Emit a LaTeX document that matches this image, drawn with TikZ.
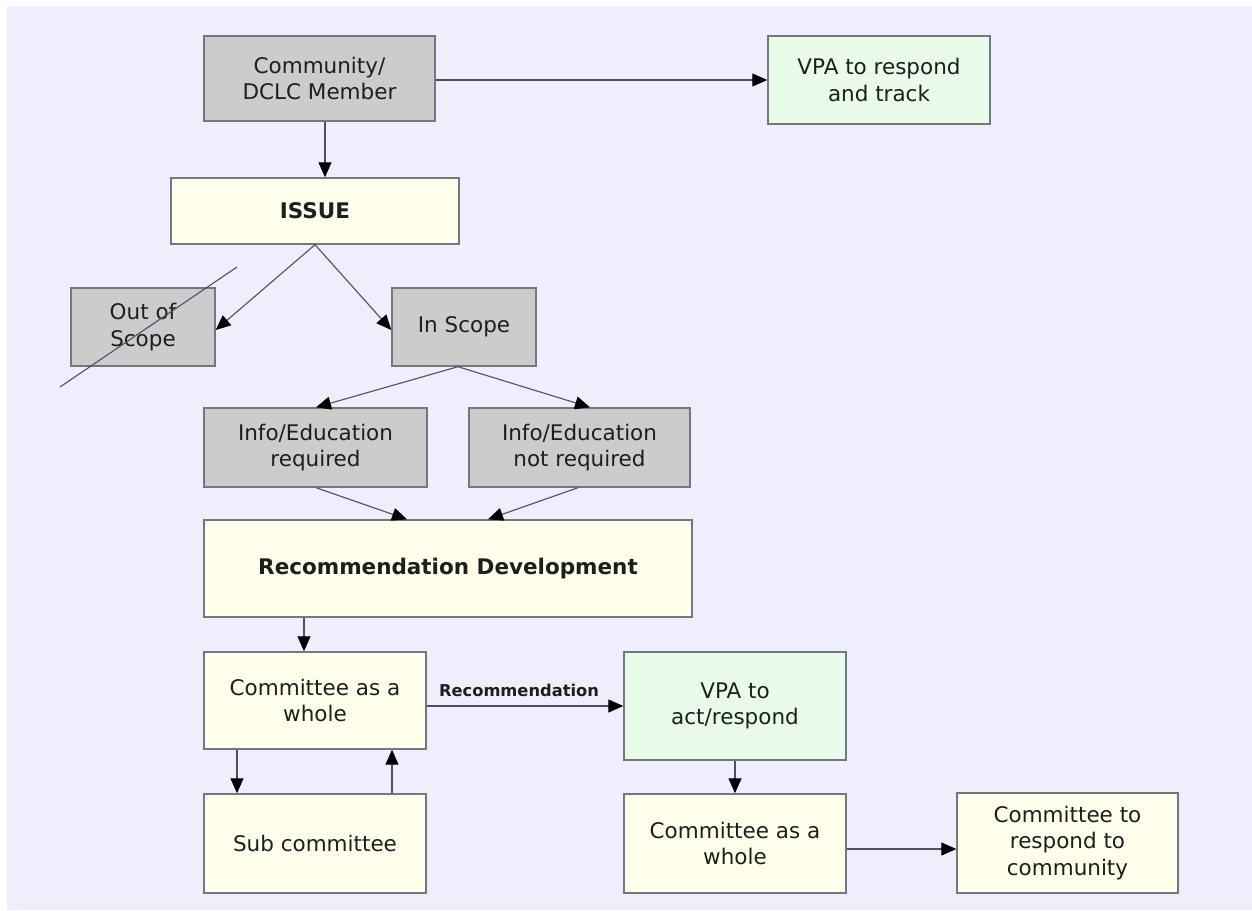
\documentclass[tikz,border=0pt]{standalone}
\usepackage{fontspec}
\setmainfont{DejaVu Sans}
\usetikzlibrary{arrows.meta}
\definecolor{bgc}{RGB}{238,238,252}
\definecolor{grayfill}{RGB}{204,204,204}
\definecolor{ylwfill}{RGB}{255,255,236}
\definecolor{grnfill}{RGB}{233,252,233}
\definecolor{boxline}{RGB}{118,118,128}
\definecolor{linec}{RGB}{78,78,108}
\definecolor{txt}{RGB}{30,30,30}
\tikzset{
  box/.style={draw=boxline, line width=1.4pt, inner sep=0pt, align=center, text=txt,
    font=\fontsize{21.5}{26.5}\selectfont},
  grybox/.style={box, fill=grayfill},
  ylwbox/.style={box, fill=ylwfill},
  grnbox/.style={box, fill=grnfill},
  conn/.style={draw=linec, line width=1.1pt, -{Triangle[length=15pt,width=13pt,color=black,fill=black]}},
  plain/.style={draw=linec, line width=1.1pt},
}
\begin{document}
\begin{tikzpicture}[x=1pt,y=-1pt]
\useasboundingbox (0,0) rectangle (1252,910);
\fill[white] (0,0) rectangle (1252,910);
\fill[bgc] (7,6) rectangle (1252,910);

\node[grybox, minimum width=231pt, minimum height=85pt] (comm) at (319.5,78.5) {Community/\\DCLC Member};
\node[grnbox, minimum width=222pt, minimum height=88pt] (vpa1) at (879,80) {VPA to respond\\and track};
\node[ylwbox, minimum width=288pt, minimum height=66pt, font=\fontsize{21.5}{26.5}\selectfont\bfseries] (issue) at (315,211) {ISSUE};
\node[grybox, minimum width=144pt, minimum height=78pt] (oos) at (143,327) {Out of\\Scope};
\node[grybox, minimum width=144pt, minimum height=78pt] (ins) at (464,327) {In Scope};
\node[grybox, minimum width=223pt, minimum height=79pt] (inforeq) at (315.5,447.5) {Info/Education\\required};
\node[grybox, minimum width=221pt, minimum height=79pt] (infonot) at (579.5,447.5) {Info/Education\\not required};
\node[ylwbox, minimum width=488pt, minimum height=97pt, font=\fontsize{21.5}{26.5}\selectfont\bfseries] (recdev) at (448,568.5) {Recommendation Development};
\node[ylwbox, minimum width=222pt, minimum height=97pt] (cw1) at (315,700.5) {Committee as a\\whole};
\node[grnbox, minimum width=222pt, minimum height=108pt] (vpa2) at (735,706) {VPA to\\act/respond};
\node[ylwbox, minimum width=222pt, minimum height=99pt] (sub) at (315,843.5) {Sub committee};
\node[ylwbox, minimum width=222pt, minimum height=99pt] (cw2) at (735,843.5) {Committee as a\\whole};
\node[ylwbox, minimum width=221pt, minimum height=100pt] (ctr) at (1067.5,843) {Committee to\\respond to\\community};

\node[text=txt, font=\fontsize{16.3}{19}\selectfont\bfseries] (reclbl) at (519,690) {Recommendation};

\draw[conn] (comm.east |- 0,80) -- (vpa1.west |- 0,80);
\draw[conn] (comm.south -| 325,0) -- (issue.north -| 325,0);
\draw[conn] (issue.south -| 315,0) -- (oos.east |- 0,330);
\draw[conn] (issue.south -| 315,0) -- (ins.west |- 0,330);
\draw[conn] (ins.south -| 458,0) -- (inforeq.north -| 316,0);
\draw[conn] (ins.south -| 458,0) -- (infonot.north -| 590,0);
\draw[conn] (inforeq.south -| 316,0) -- (recdev.north -| 407,0);
\draw[conn] (infonot.south -| 578,0) -- (recdev.north -| 488,0);
\draw[conn] (recdev.south -| 304,0) -- (cw1.north -| 304,0);
\draw[conn] (cw1.east |- 0,706) -- (vpa2.west |- 0,706);
\draw[conn] (cw1.south -| 237,0) -- (sub.north -| 237,0);
\draw[conn] (sub.north -| 392,0) -- (cw1.south -| 392,0);
\draw[conn] (vpa2.south) -- (cw2.north);
\draw[conn] (cw2.east |- 0,849) -- (ctr.west |- 0,849);

\coordinate (xa) at (237,267);
\coordinate (xb) at (60,387);
\draw[plain] (xa) -- (xb);
\end{tikzpicture}
\end{document}
